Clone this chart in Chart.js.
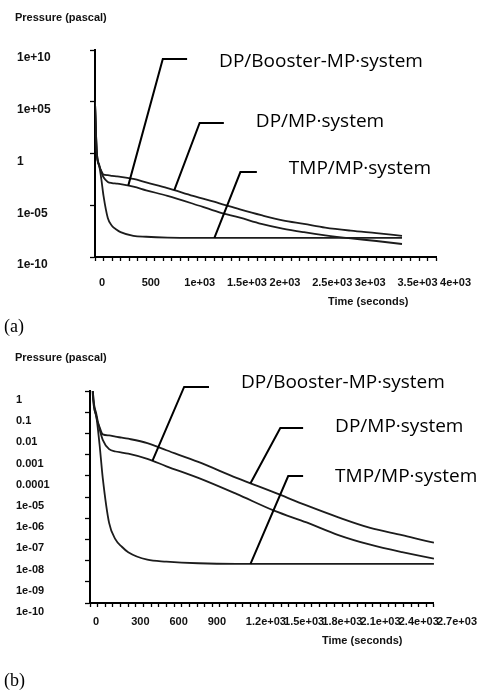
<!DOCTYPE html>
<html>
<head>
<meta charset="utf-8">
<script src="https://cdn.jsdelivr.net/npm/chart.js@4.4.1/dist/chart.umd.min.js"></script>
<style>
  body { margin: 0; background: #fff; }
  #wrap { position: relative; width: 482px; height: 693px; overflow: hidden; }
  canvas { position: absolute; left: 0; }
  .lbl { position: absolute; font-family: "Liberation Sans", Arial, sans-serif; font-weight: bold; font-size: 11px; line-height: 12px; white-space: nowrap; color: #111; }
  .tag { position: absolute; font-family: "Liberation Serif", "Times New Roman", serif; font-size: 18px; line-height: 20px; color: #000; }
</style>
</head>
<body>
<div id="wrap">
  <canvas id="chartA" width="482" height="345" style="top:0"></canvas>
  <canvas id="chartB" width="482" height="348" style="top:345px"></canvas>
  <div class="lbl" style="left:15px; top:11px">Pressure (pascal)</div>
  <div class="lbl" style="left:328px; top:295px">Time (seconds)</div>
  <div class="tag" style="left:4px; top:316px">(a)</div>
  <div class="lbl" style="left:15px; top:351px">Pressure (pascal)</div>
  <div class="lbl" style="left:322px; top:634px">Time (seconds)</div>
  <div class="tag" style="left:4px; top:670px">(b)</div>
</div>
<script>
// pump-down time (s) and chamber pressure (Pa)
const time = [0, 20, 50, 75, 100, 150, 200, 250, 300, 450, 600, 850, 1150, 1450, 1700, 1950, 2200, 2450, 2700, 3000, 3300, 3600];
const dpMp = [1e5, 2, 6e-2, 2e-2, 9e-3, 8e-3, 7e-3, 6.3e-3, 5.6e-3, 3.5e-3, 1.6e-3, 4.5e-4, 8e-5, 1.6e-5, 4e-6, 1.1e-6, 3.5e-7, 1.6e-7, 7e-8, 3.5e-8, 2e-8, 1.1e-8];
const dpBoosterMp = [1e5, 2, 8e-2, 1.6e-2, 5e-3, 1.8e-3, 1.4e-3, 1.25e-3, 1.1e-3, 6.3e-4, 2.8e-4, 8e-5, 1.4e-5, 2.2e-6, 6.3e-7, 1.6e-7, 5.6e-8, 2.5e-8, 1.25e-8, 6.3e-9, 3.5e-9, 1.8e-9];
const tmpMp = [1e5, 1, 6e-2, 3e-3, 8e-5, 6e-7, 1e-7, 4.5e-8, 2.5e-8, 1.1e-8, 9e-9, 7.5e-9, 7e-9, 7e-9, 7e-9, 7e-9, 7e-9, 7e-9, 7e-9, 7e-9, 7e-9, 7e-9];

const seriesNames = ["DP/MP·system", "DP/Booster-MP·system", "TMP/MP·system"];

// axis ticks, panel (a)
const yTicksA = [1e10, 1e5, 1, 1e-5, 1e-10];
const yLabelsA = ["1e+10", "1e+05", "1", "1e-05", "1e-10"];
const xLabelsA = ["0", "500", "1e+03", "1.5e+03", "2e+03", "2.5e+03", "3e+03", "3.5e+03", "4e+03"];

// axis ticks, panel (b)
const yTicksB = [1, 0.1, 0.01, 1e-3, 1e-4, 1e-5, 1e-6, 1e-7, 1e-8, 1e-9, 1e-10];
const yLabelsB = ["1", "0.1", "0.01", "0.001", "0.0001", "1e-05", "1e-06", "1e-07", "1e-08", "1e-09", "1e-10"];
const xLabelsB = ["0", "300", "600", "900", "1.2e+03", "1.5e+03", "1.8e+03", "2.1e+03", "2.4e+03", "2.7e+03"];

// log-linear lookup on a series, used to pin the leader lines on the curves
function pressureAt(values, t) {
  for (let i = 1; i < time.length; i++) {
    if (t <= time[i]) {
      const f = (t - time[i - 1]) / (time[i] - time[i - 1]);
      const a = Math.log10(values[i - 1]), b = Math.log10(values[i]);
      return Math.pow(10, a + (b - a) * f);
    }
  }
  return values[values.length - 1];
}

const leaders = {
  id: 'leaders',
  afterDatasetsDraw(chart, args, opts) {
    const ctx = chart.ctx, xs = chart.scales.x, ys = chart.scales.y;
    ctx.save();
    ctx.strokeStyle = '#000';
    ctx.lineWidth = 2;
    ctx.fillStyle = '#000';
    ctx.font = '19px "Open Sans"';
    ctx.textBaseline = 'middle';
    opts.items.forEach(function (it) {
      const vals = chart.data.datasets[it.ds].data.map(p => p.y);
      const x0 = xs.getPixelForValue(it.t), y0 = ys.getPixelForValue(pressureAt(vals, it.t));
      const x1 = xs.getPixelForValue(it.topT), y1 = ys.getPixelForValue(it.topP);
      const x2 = xs.getPixelForValue(it.endT);
      ctx.beginPath();
      ctx.moveTo(x0, y0);
      ctx.lineTo(x1, y1);
      ctx.lineTo(x2, y1);
      ctx.stroke();
      ctx.fillText(seriesNames[it.ds], x2 + 32, y1 + (it.dy || 0));
    });
    ctx.restore();
  }
};

function pressureChart(id, o) {
  const c = document.getElementById(id).getContext('2d');
  const sets = [dpMp, dpBoosterMp, tmpMp].map(function (vals, k) {
    return {
      label: seriesNames[k],
      data: time.map((t, i) => ({ x: t, y: vals[i] })),
      borderColor: '#1c1c1c',
      borderWidth: 1.8,
      pointRadius: 0,
      fill: false,
      cubicInterpolationMode: 'monotone'
    };
  });
  return new Chart(c, {
    type: 'line',
    data: { datasets: sets },
    plugins: [leaders],
    options: {
      responsive: false,
      animation: false,
      devicePixelRatio: 1,
      layout: { padding: o.padding },
      plugins: {
        legend: { display: false },
        tooltip: { enabled: false },
        leaders: { items: o.leaders }
      },
      scales: {
        x: {
          type: 'linear',
          min: 0,
          max: o.xMax,
          afterFit(s) { s.height = o.xHeight; },
          border: { display: true, color: '#000', width: 2 },
          grid: { drawOnChartArea: false, drawTicks: true, tickLength: 4, tickColor: '#000', tickWidth: 1.3 },
          ticks: {
            stepSize: o.xStep,
            autoSkip: false,
            maxRotation: 0,
            align: 'start',
            labelOffset: o.xLabelOffset,
            padding: o.xPad,
            color: '#111',
            font: { family: 'Liberation Sans', weight: 'bold', size: 11 },
            callback(v) {
              return v % o.xEvery === 0 ? o.xLabels[v / o.xEvery] : '';
            }
          }
        },
        y: {
          type: 'logarithmic',
          min: o.yTicks[o.yTicks.length - 1],
          max: o.yTicks[0],
          afterFit(s) { s.width = o.yWidth; },
          afterBuildTicks(s) { s.ticks = o.yTicks.map(v => ({ value: v })); },
          border: { display: true, color: '#000', width: 2 },
          grid: { drawOnChartArea: false, drawTicks: true, tickLength: 5, tickColor: '#000', tickWidth: 1.3 },
          ticks: {
            crossAlign: 'far',
            labelOffset: o.yLabelOffset,
            color: '#111',
            font: { family: 'Liberation Sans', weight: 'bold', size: o.yFont },
            callback(v) {
              const i = o.yTicks.indexOf(v);
              return i >= 0 ? o.yLabels[i] : '';
            }
          }
        }
      }
    }
  });
}

pressureChart('chartA', {
  padding: { left: 17, top: 50, right: 35, bottom: 0 },
  xMax: 4000, xStep: 100, xEvery: 500, xLabels: xLabelsA, xLabelOffset: 4, xPad: 15, xHeight: 88,
  yTicks: yTicksA, yLabels: yLabelsA, yWidth: 78, yLabelOffset: 8, yFont: 12,
  leaders: [
    { ds: 1, t: 390, topT: 795, topP: 1.35e9, endT: 1080, dy: 3 },
    { ds: 0, t: 930, topT: 1227, topP: 900, endT: 1511, dy: -1 },
    { ds: 2, t: 1400, topT: 1705, topP: 0.016, endT: 1898, dy: -3 }
  ]
});

pressureChart('chartB', {
  padding: { left: 16, top: 46, right: 45, bottom: 0 },
  xMax: 2700, xStep: 60, xEvery: 300, xLabels: xLabelsB, xLabelOffset: 3, xPad: 8, xHeight: 90,
  yTicks: yTicksB, yLabels: yLabelsB, yWidth: 74, yLabelOffset: 9, yFont: 11,
  leaders: [
    { ds: 1, t: 490, topT: 739, topP: 1.55, endT: 934, dy: -4 },
    { ds: 0, t: 1260, topT: 1494, topP: 0.018, endT: 1673, dy: -1 },
    { ds: 2, t: 1260, topT: 1556, topP: 9.8e-5, endT: 1673, dy: 1 }
  ]
});
</script>
</body>
</html>
